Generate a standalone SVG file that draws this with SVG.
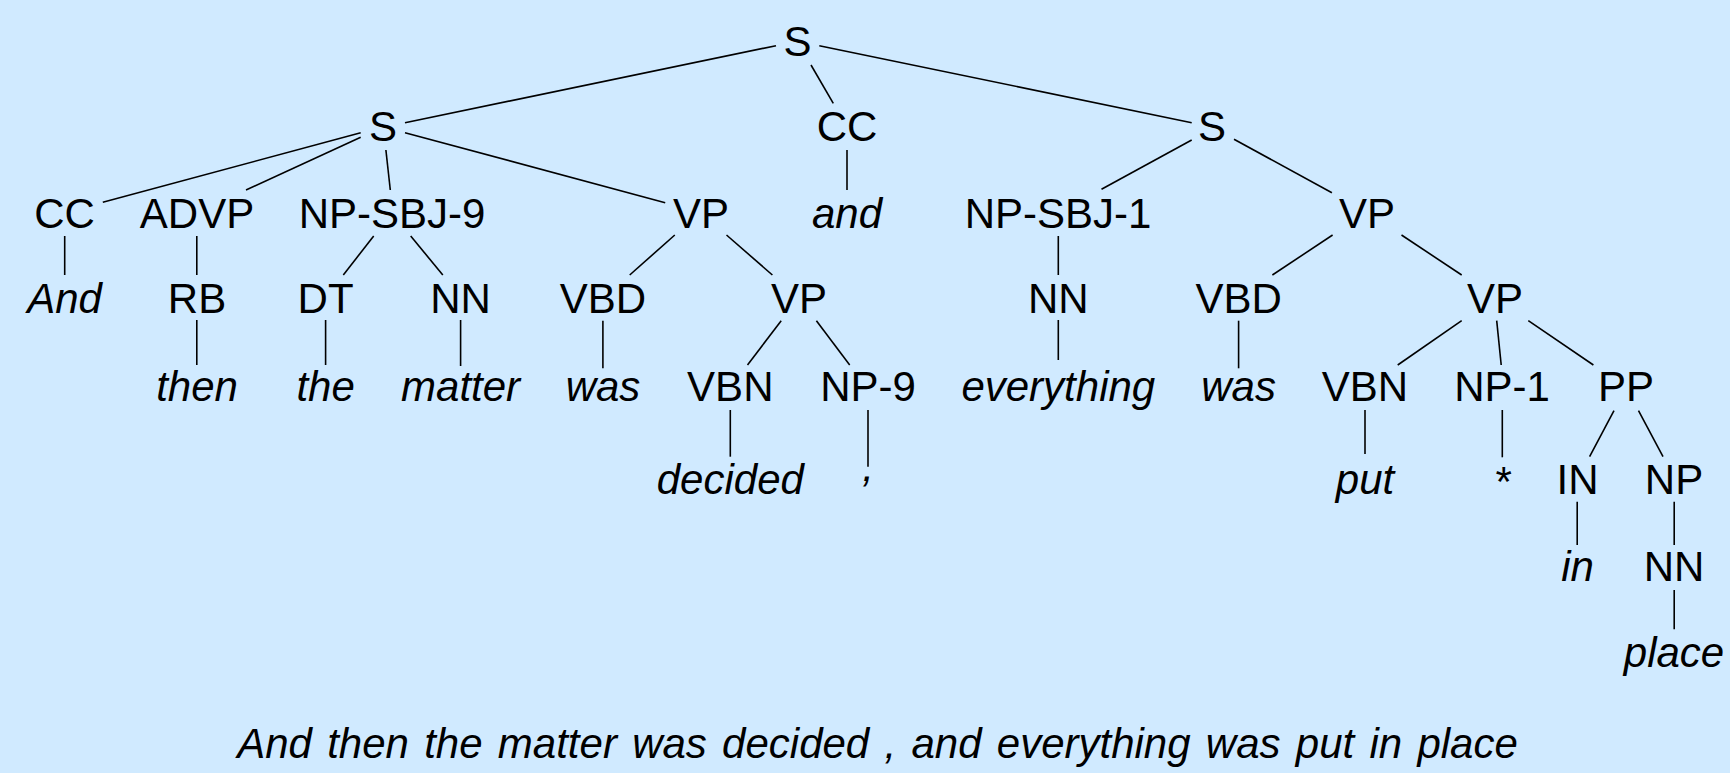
<svg xmlns="http://www.w3.org/2000/svg" width="1730" height="773" viewBox="0 0 1730 773">
  <style>
    .lbl { font-family: "Liberation Sans", Arial, Helvetica, sans-serif; font-size: 42px; fill: #000; text-anchor: middle; }
    .word { font-style: italic; }
    .sent { word-spacing: 3.6px; }
    .edges line { stroke: #000; stroke-width: 1.6; stroke-linecap: butt; }
  </style>
  <rect x="0" y="0" width="1730" height="773" fill="#d0eaff"/>

  <!-- tree edges -->
  <g id="edges" class="edges">
    <line x1="776" y1="45.7" x2="405" y2="122.7"/>
    <line x1="811" y1="65" x2="833.3" y2="103.3"/>
    <line x1="819.3" y1="45.7" x2="1191.7" y2="122.7"/>
    <line x1="360.7" y1="132.7" x2="102.8" y2="202.3"/>
    <line x1="360.7" y1="137.3" x2="246" y2="190"/>
    <line x1="385.9" y1="150" x2="390.3" y2="190"/>
    <line x1="405" y1="132.7" x2="665.2" y2="202.7"/>
    <line x1="847" y1="150" x2="847" y2="190"/>
    <line x1="1191.7" y1="140" x2="1101.5" y2="189.3"/>
    <line x1="1234" y1="139.3" x2="1331.9" y2="192.7"/>
    <line x1="64.7" y1="236" x2="64.7" y2="275"/>
    <line x1="196.8" y1="236" x2="196.8" y2="275"/>
    <line x1="373.7" y1="236" x2="343.3" y2="275"/>
    <line x1="410.7" y1="236" x2="442.8" y2="275"/>
    <line x1="674.8" y1="235" x2="629.7" y2="275"/>
    <line x1="726.5" y1="235" x2="772.4" y2="275"/>
    <line x1="1058.3" y1="236" x2="1058.3" y2="275"/>
    <line x1="1332.6" y1="235" x2="1272.4" y2="275"/>
    <line x1="1401.5" y1="235" x2="1461.7" y2="275"/>
    <line x1="196.8" y1="320" x2="196.8" y2="365"/>
    <line x1="325.6" y1="320" x2="325.6" y2="365"/>
    <line x1="460.6" y1="320" x2="460.6" y2="366"/>
    <line x1="602.9" y1="320.7" x2="602.9" y2="368.3"/>
    <line x1="781.2" y1="320.7" x2="747.5" y2="365"/>
    <line x1="816.4" y1="320.7" x2="849.7" y2="365"/>
    <line x1="1058.3" y1="320" x2="1058.3" y2="360"/>
    <line x1="1238.6" y1="320.7" x2="1238.6" y2="368.3"/>
    <line x1="1461.7" y1="320.7" x2="1397.7" y2="365"/>
    <line x1="1496.7" y1="320.7" x2="1501.2" y2="365"/>
    <line x1="1528.3" y1="320.7" x2="1593.4" y2="365"/>
    <line x1="730.3" y1="410" x2="730.3" y2="456.7"/>
    <line x1="868" y1="410" x2="868" y2="466.7"/>
    <line x1="1365" y1="410" x2="1365" y2="454"/>
    <line x1="1502.3" y1="410" x2="1502.3" y2="457.3"/>
    <line x1="1614" y1="410.7" x2="1589.6" y2="456.7"/>
    <line x1="1638.5" y1="410.7" x2="1663" y2="456.7"/>
    <line x1="1577.2" y1="501.7" x2="1577.2" y2="545"/>
    <line x1="1674.2" y1="501.7" x2="1674.2" y2="545"/>
    <line x1="1674.2" y1="590" x2="1674.2" y2="629.3"/>
  </g>

  <!-- level 0 -->
  <g id="n-s-root"><text class="lbl" x="797.5" y="56">S</text></g>

  <!-- level 1 -->
  <g id="n-s-left"><text class="lbl" x="383" y="141">S</text></g>
  <g id="n-cc-mid"><text class="lbl" x="847" y="141">CC</text></g>
  <g id="n-s-right"><text class="lbl" x="1212" y="141">S</text></g>

  <!-- level 2 -->
  <g id="n-cc-left"><text class="lbl" x="64.5" y="228">CC</text></g>
  <g id="n-advp"><text class="lbl" x="197" y="228">ADVP</text></g>
  <g id="n-np-sbj-9"><text class="lbl" x="392" y="228">NP-SBJ-9</text></g>
  <g id="n-vp-left"><text class="lbl" x="701" y="228">VP</text></g>
  <g id="w-and-mid"><text class="lbl word" x="847" y="228">and</text></g>
  <g id="n-np-sbj-1"><text class="lbl" x="1058" y="228">NP-SBJ-1</text></g>
  <g id="n-vp-right"><text class="lbl" x="1367" y="228">VP</text></g>

  <!-- level 3 -->
  <g id="w-and-first"><text class="lbl word" x="64.5" y="313">And</text></g>
  <g id="n-rb"><text class="lbl" x="197" y="313">RB</text></g>
  <g id="n-dt"><text class="lbl" x="325.6" y="313">DT</text></g>
  <g id="n-nn-matter"><text class="lbl" x="460.6" y="313">NN</text></g>
  <g id="n-vbd-left"><text class="lbl" x="603" y="313">VBD</text></g>
  <g id="n-vp-left-inner"><text class="lbl" x="799" y="313">VP</text></g>
  <g id="n-nn-everything"><text class="lbl" x="1058.3" y="313">NN</text></g>
  <g id="n-vbd-right"><text class="lbl" x="1238.6" y="313">VBD</text></g>
  <g id="n-vp-right-inner"><text class="lbl" x="1495" y="313">VP</text></g>

  <!-- level 4 -->
  <g id="w-then"><text class="lbl word" x="197" y="401">then</text></g>
  <g id="w-the"><text class="lbl word" x="325.6" y="401">the</text></g>
  <g id="w-matter"><text class="lbl word" x="460.6" y="401">matter</text></g>
  <g id="w-was-left"><text class="lbl word" x="603" y="401">was</text></g>
  <g id="n-vbn-left"><text class="lbl" x="730.3" y="401">VBN</text></g>
  <g id="n-np-9"><text class="lbl" x="868" y="401">NP-9</text></g>
  <g id="w-everything"><text class="lbl word" x="1058.3" y="401">everything</text></g>
  <g id="w-was-right"><text class="lbl word" x="1238.6" y="401">was</text></g>
  <g id="n-vbn-right"><text class="lbl" x="1365" y="401">VBN</text></g>
  <g id="n-np-1"><text class="lbl" x="1502" y="401">NP-1</text></g>
  <g id="n-pp"><text class="lbl" x="1626" y="401">PP</text></g>

  <!-- level 5 -->
  <g id="w-decided"><text class="lbl word" x="730.3" y="494">decided</text></g>
  <g id="w-comma"><text class="lbl word" x="868" y="481">,</text></g>
  <g id="w-put"><text class="lbl word" x="1365" y="494">put</text></g>
  <g id="w-star"><text class="lbl word" x="1502" y="496">*</text></g>
  <g id="n-in"><text class="lbl" x="1577.5" y="494">IN</text></g>
  <g id="n-np"><text class="lbl" x="1674" y="494">NP</text></g>

  <!-- level 6 -->
  <g id="w-in"><text class="lbl word" x="1577.5" y="581">in</text></g>
  <g id="n-nn-place"><text class="lbl" x="1674" y="581">NN</text></g>

  <!-- level 7 -->
  <g id="w-place"><text class="lbl word" x="1674" y="667">place</text></g>

  <!-- sentence -->
  <g id="sentence"><text class="lbl word sent" x="877.5" y="758">And then the matter was decided , and everything was put in place</text></g>
</svg>
